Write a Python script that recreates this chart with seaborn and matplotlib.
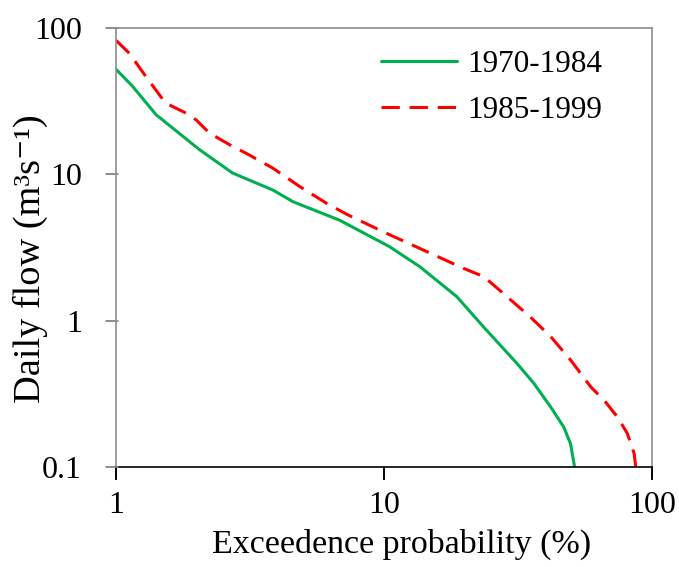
import pandas as pd
import matplotlib
matplotlib.use("Agg")
import matplotlib.pyplot as plt
from matplotlib.lines import Line2D
import seaborn as sns

# Flow duration curves
prob_7084 = [1.0, 1.15, 1.41, 2.05, 2.72, 3.85, 4.57, 6.84, 10.5, 13.6, 18.7, 23.5,
             31.4, 36.3, 41.9, 46.9, 49.7, 51.5]
flow_7084 = [52, 40, 25.5, 14.7, 10.2, 7.8, 6.5, 4.85, 3.2, 2.34, 1.46, 0.91,
             0.51, 0.373, 0.258, 0.188, 0.145, 0.1]

prob_8599 = [1.0, 1.12, 1.29, 1.53, 1.82, 1.99, 2.23, 2.72, 3.06, 3.85, 4.85, 6.1,
             7.35, 9.9, 14.9, 19.8, 23.6, 28.8, 35.2, 41.9, 49.7, 59.1, 66.3,
             74.3, 81.0, 85.9, 87.1]
flow_8599 = [82, 67, 46.6, 30.6, 26.2, 23.5, 19.1, 15.5, 13.9, 11.0, 8.24, 6.34,
             5.27, 4.06, 2.89, 2.28, 2.0, 1.46, 1.06, 0.78, 0.54, 0.354, 0.287,
             0.221, 0.17, 0.124, 0.1]

x_ticks = [1, 10, 100]
y_ticks = [0.1, 1, 10, 100]
periods = ["1970-1984", "1985-1999"]
colors = ["#00b050", "#ff0000"]

df = pd.concat([
    pd.DataFrame({"prob": prob_7084, "flow": flow_7084, "period": periods[0]}),
    pd.DataFrame({"prob": prob_8599, "flow": flow_8599, "period": periods[1]}),
])

sns.set_style("ticks")
plt.rcParams["font.family"] = ["Liberation Serif", "DejaVu Serif"]
plt.rcParams["text.color"] = "black"
plt.rcParams["axes.labelcolor"] = "black"
plt.rcParams["xtick.labelcolor"] = "black"
plt.rcParams["ytick.labelcolor"] = "black"

fig = plt.figure(figsize=(6.79, 5.67), dpi=100)
ax = fig.add_axes([0.171, 0.176, 0.789, 0.775])

sns.lineplot(data=df, x="prob", y="flow", hue="period", style="period",
             palette=dict(zip(periods, colors)),
             dashes={periods[0]: "", periods[1]: (6.0, 3.2)},
             sort=False, estimator=None, linewidth=2.2, ax=ax)

ax.set_xscale("log")
ax.set_yscale("log")
ax.set_xlim(1, 100)
ax.set_ylim(0.1, 100)
ax.set_xticks(x_ticks)
ax.set_xticklabels([f"{v:g}" for v in x_ticks])
ax.set_yticks(y_ticks)
ax.set_yticklabels([f"{v:g}" for v in y_ticks])
ax.minorticks_off()

for s in ["left", "top", "right"]:
    ax.spines[s].set_visible(True)
    ax.spines[s].set_color("#8c8c8c")
    ax.spines[s].set_linewidth(1.2)
ax.spines["bottom"].set_color("black")
ax.spines["bottom"].set_linewidth(1.2)

ax.tick_params(axis="x", direction="out", length=9, width=1.2, color="black",
               labelsize=23, pad=8)
ax.tick_params(axis="y", direction="out", length=7.5, width=1.2, color="#8c8c8c",
               labelsize=23, pad=17)

# tick marks added again at figure level so they show in every renderer
to_fig = fig.transFigure.inverted()
for v in x_ticks:
    (x0, y0) = to_fig.transform(ax.transData.transform((v, 0.1)))
    fig.add_artist(Line2D([x0, x0], [y0, y0 - 12 / 567], color="black", lw=1.2))
for v in y_ticks:
    (x0, y0) = to_fig.transform(ax.transData.transform((1, v)))
    fig.add_artist(Line2D([x0 - 10 / 679, x0 + 2 / 679], [y0, y0],
                          color="#8c8c8c", lw=1.2))

ax.set_xlabel("Exceedence probability (%)", fontsize=24.5)
ax.xaxis.set_label_coords(0.533, -0.139)
ax.set_ylabel("Daily flow (m\u00b3s\u207b\u00b9)", fontsize=27.6)
ax.yaxis.set_label_coords(-0.128, 0.474)

ax.legend(loc="upper right", frameon=False, fontsize=22.5, handlelength=2.45,
          handletextpad=0.3, labelspacing=0.55, borderaxespad=0.0,
          bbox_to_anchor=(0.93, 0.978))

fig.savefig("out.png", dpi=100)
